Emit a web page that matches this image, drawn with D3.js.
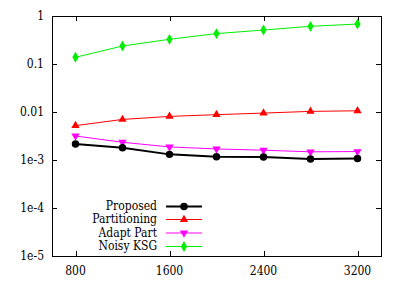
<!DOCTYPE html>
<html><head><meta charset="utf-8">
<script src="https://cdn.jsdelivr.net/npm/d3@7"></script>
<style>body{margin:0;background:#fff}svg{display:block}</style>
</head><body><svg id="c" width="405" height="284"></svg>
<script>
const xs = [800, 1200, 1600, 2000, 2400, 2800, 3200];
const proposed = [0.00215, 0.0018, 0.00131, 0.00117, 0.00116, 0.00105, 0.00108];
const partitioning = [0.0052, 0.0070, 0.0081, 0.0088, 0.0095, 0.0103, 0.0106];
const adaptPart = [0.00316, 0.00234, 0.00187, 0.0017, 0.0016, 0.00148, 0.0015];
const noisyKSG = [0.138, 0.237, 0.327, 0.43, 0.51, 0.61, 0.68];
const xTicks = [800, 1600, 2400, 3200];
const yTicks = [1, 0.1, 0.01, 1e-3, 1e-4, 1e-5];
const yTickLabels = ["1", "0.1", "0.01", "1e-3", "1e-4", "1e-5"];
const seriesNames = ["Proposed", "Partitioning", "Adapt Part", "Noisy KSG"];

const FONT = "'DejaVu Serif Condensed', 'DejaVu Serif', serif";

const series = [
  {name: seriesNames[0], vals: proposed, color: "#000000", width: 2, sym: d3.symbolCircle, size: 44},
  {name: seriesNames[1], vals: partitioning, color: "#ff0000", width: 1, sym: d3.symbolTriangle, size: 30},
  {name: seriesNames[2], vals: adaptPart, color: "#ff00ff", width: 1, sym: d3.symbolTriangle, size: 30, flip: true},
  {name: seriesNames[3], vals: noisyKSG, color: "#00ee00", width: 1, sym: d3.symbolDiamond, size: 34}
];

const L = 52, R = 381, T = 16, B = 256;
const svg = d3.select("#c");
const x = d3.scaleLinear().domain([600, 3400]).range([L, R]);
const y = d3.scaleLog().domain([1e-5, 1]).range([B, T]);

svg.append("rect").attr("x", L + 0.5).attr("y", T + 0.5).attr("width", R - L).attr("height", B - T)
  .attr("fill", "none").attr("stroke", "#000").attr("stroke-width", 1);

function styleText(t, size) {
  return t.attr("font-family", FONT).attr("font-size", size).style("font-stretch", "condensed");
}

const tk = 5;
const gy = svg.append("g");
yTicks.forEach((v, i) => {
  const yy = Math.round(y(v)) + 0.5;
  if (i > 0 && i < yTicks.length - 1) {
    gy.append("line").attr("x1", L).attr("x2", L + tk).attr("y1", yy).attr("y2", yy).attr("stroke", "#000");
    gy.append("line").attr("x1", R - tk).attr("x2", R).attr("y1", yy).attr("y2", yy).attr("stroke", "#000");
  }
  styleText(gy.append("text").attr("x", 44).attr("y", y(v)).attr("dy", "0.35em").attr("text-anchor", "end"), 12)
    .text(yTickLabels[i]);
});
const gx = svg.append("g");
xTicks.forEach(v => {
  const xx = Math.round(x(v)) + 0.5;
  gx.append("line").attr("x1", xx).attr("x2", xx).attr("y1", B).attr("y2", B - tk).attr("stroke", "#000");
  gx.append("line").attr("x1", xx).attr("x2", xx).attr("y1", T).attr("y2", T + tk).attr("stroke", "#000");
  styleText(gx.append("text").attr("x", x(v)).attr("y", 271).attr("dy", "0.35em").attr("text-anchor", "middle"), 12)
    .text(v);
});

const line = d3.line().x(d => x(d[0])).y(d => y(d[1]));
series.slice().reverse().forEach(s => {
  const pts = xs.map((v, i) => [v, s.vals[i]]);
  svg.append("path").attr("d", line(pts)).attr("fill", "none").attr("stroke", s.color).attr("stroke-width", s.width);
  const sym = d3.symbol().type(s.sym).size(s.size);
  svg.append("g").selectAll("path").data(pts).join("path")
    .attr("d", sym)
    .attr("transform", d => `translate(${x(d[0])},${y(d[1])})` + (s.flip ? " rotate(180)" : ""))
    .attr("fill", s.color);
});

const legY = [206.5, 219.5, 233, 246.5];
series.forEach((s, i) => {
  const ly = legY[i];
  styleText(svg.append("text").attr("x", 157).attr("y", ly).attr("dy", "0.33em").attr("text-anchor", "end"), 12)
    .text(s.name);
  svg.append("line").attr("x1", 166).attr("x2", 202).attr("y1", ly).attr("y2", ly)
    .attr("stroke", s.color).attr("stroke-width", s.width);
  svg.append("path").attr("d", d3.symbol().type(s.sym).size(s.size)())
    .attr("transform", `translate(184,${ly})` + (s.flip ? " rotate(180)" : ""))
    .attr("fill", s.color);
});
</script></body></html>
